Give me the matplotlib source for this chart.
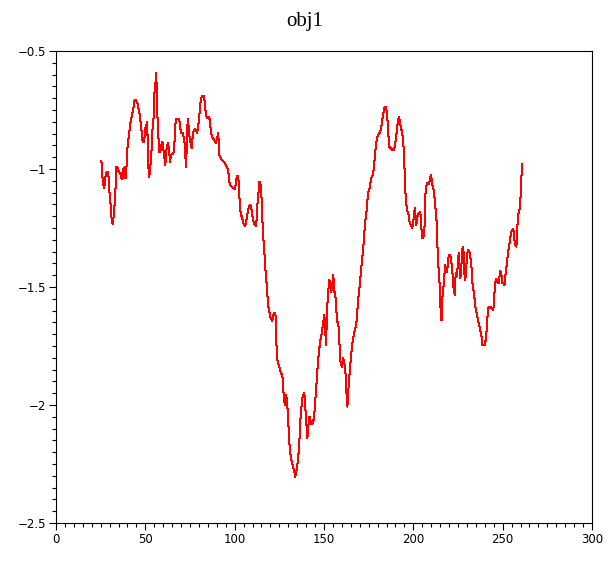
import matplotlib
matplotlib.use("Agg")
import matplotlib.pyplot as plt
from matplotlib.ticker import MultipleLocator

TITLE = "obj1"

x_vals = [
    25.4, 25.9, 26.3, 27.0, 27.6, 28.4, 29.3, 29.5, 30.1, 30.6, 31.0, 31.5, 31.9, 32.3, 32.9,
    33.4, 33.8, 34.3, 34.9, 35.6, 36.2, 36.8, 37.3, 37.9, 38.2, 38.8, 39.2, 39.6, 40.1, 40.7,
    41.2, 41.8, 42.4, 42.9, 43.5, 44.0, 44.6, 45.2, 45.7, 46.3, 46.8, 47.4, 48.0, 48.5, 49.1,
    49.6, 50.2, 50.8, 51.1, 51.3, 51.7, 52.2, 52.8, 53.6, 53.9, 54.5, 54.9, 55.2, 55.6, 55.8,
    56.1, 56.5, 56.9, 57.5, 57.8, 58.2, 58.6, 58.9, 59.5, 59.9, 60.3, 60.8, 61.2, 61.6, 62.1,
    62.7, 63.3, 63.8, 64.2, 64.8, 65.7, 66.4, 67.0, 67.7, 68.8, 69.4, 69.8, 70.4, 71.1, 71.5,
    72.0, 72.4, 72.9, 73.3, 73.9, 74.3, 74.8, 75.4, 75.9, 76.5, 77.1, 77.8, 78.4, 78.9, 79.6,
    80.2, 80.8, 81.3, 81.9, 82.6, 83.2, 83.8, 84.3, 84.9, 85.5, 86.0, 86.6, 87.1, 87.7, 88.3,
    88.8, 89.4, 89.9, 90.3, 90.8, 91.4, 92.9, 94.6, 96.4, 96.8, 97.4, 98.3, 99.2, 100.2, 100.7,
    101.3, 102.0, 102.4, 103.0, 103.5, 104.1, 104.7, 105.2, 105.8, 106.3, 106.9, 107.5, 108.0, 108.6, 109.1,
    109.7, 110.3, 110.8, 111.4, 111.9, 112.5, 112.9, 113.5, 113.8, 114.2, 114.6, 115.1, 115.5, 116.0, 116.6,
    117.1, 117.7, 118.3, 118.8, 119.4, 119.9, 120.7, 121.1, 121.6, 122.2, 122.8, 123.3, 123.7, 124.3, 125.0,
    125.9, 126.7, 127.2, 127.8, 128.2, 128.8, 129.3, 129.7, 130.2, 130.8, 131.4, 131.9, 132.5, 133.0, 133.6,
    133.9, 134.5, 135.1, 135.6, 136.2, 136.7, 137.3, 137.9, 138.4, 139.0, 139.5, 140.1, 140.7, 141.2, 141.8,
    142.3, 142.9, 143.5, 144.0, 144.6, 145.1, 145.7, 146.3, 146.8, 147.4, 147.9, 148.5, 149.0, 149.6, 150.2,
    150.6, 151.1, 151.5, 151.8, 152.4, 153.0, 153.5, 154.1, 154.7, 155.2, 155.8, 156.3, 156.9, 157.4, 158.0,
    158.6, 158.8, 159.5, 160.1, 160.6, 161.2, 161.8, 162.3, 162.7, 163.1, 163.4, 164.0, 164.6, 165.1, 165.7,
    166.2, 166.8, 167.4, 167.9, 168.5, 169.0, 169.6, 170.2, 170.7, 171.3, 171.8, 172.4, 172.9, 173.5, 174.1,
    174.6, 175.2, 175.7, 176.3, 176.9, 177.4, 178.0, 178.5, 179.1, 179.7, 180.2, 180.8, 181.3, 181.9, 182.5,
    183.0, 183.6, 184.1, 184.7, 185.3, 185.8, 186.4, 186.9, 187.5, 188.1, 189.2, 189.7, 190.3, 190.9, 191.4,
    192.0, 192.6, 193.1, 193.7, 194.2, 194.8, 195.1, 195.5, 195.9, 196.5, 197.0, 197.4, 197.8, 198.3, 198.9,
    199.4, 200.0, 200.4, 200.8, 201.3, 201.7, 202.1, 202.5, 203.0, 203.6, 203.9, 204.3, 204.7, 205.0, 205.6,
    206.1, 206.5, 206.9, 207.5, 208.0, 208.6, 209.2, 209.5, 209.9, 210.3, 210.8, 211.4, 211.7, 212.1, 212.5,
    213.1, 213.6, 214.2, 214.8, 215.1, 215.5, 215.9, 216.2, 216.8, 217.3, 217.7, 218.3, 218.8, 219.4, 219.8,
    220.7, 221.5, 222.0, 222.6, 223.2, 223.7, 224.2, 224.8, 225.4, 225.9, 226.3, 226.7, 227.2, 227.6, 228.2,
    228.5, 229.1, 229.5, 229.9, 230.2, 230.8, 231.3, 231.9, 232.5, 232.8, 233.2, 233.8, 234.3, 234.9, 235.5,
    236.0, 236.6, 237.1, 237.7, 238.3, 238.6, 239.2, 239.9, 240.5, 241.1, 241.6, 242.2, 242.7, 243.3, 243.9,
    244.4, 245.0, 245.5, 246.1, 246.7, 247.2, 247.8, 248.2, 248.7, 249.3, 249.8, 250.4, 251.0, 251.5, 252.1,
    252.6, 253.2, 253.7, 254.3, 254.9, 255.4, 256.0, 256.5, 257.1, 257.7, 258.2, 258.8, 259.3, 259.9, 260.2,
    260.6, 261.0,
]

y_vals = [
    -0.966, -1.018, -1.064, -1.082, -1.033, -1.011, -1.011, -1.061, -1.110, -1.155, -1.202, -1.227, -1.234, -1.195, -1.139,
    -1.068, -0.990, -0.990, -1.008, -1.016, -1.025, -1.044, -1.011, -0.997, -1.039, -0.990, -1.039, -0.962, -0.898, -0.866,
    -0.832, -0.795, -0.778, -0.757, -0.733, -0.708, -0.709, -0.715, -0.722, -0.747, -0.768, -0.804, -0.849, -0.884, -0.884,
    -0.866, -0.814, -0.856, -0.800, -0.891, -0.993, -1.035, -0.990, -0.905, -0.842, -0.800, -0.729, -0.662, -0.651, -0.609,
    -0.592, -0.694, -0.806, -0.884, -0.927, -0.927, -0.919, -0.898, -0.884, -0.905, -0.931, -0.962, -0.983, -0.933, -0.905,
    -0.891, -0.919, -0.969, -0.948, -0.936, -0.936, -0.877, -0.789, -0.789, -0.789, -0.806, -0.842, -0.849, -0.849, -0.870,
    -0.891, -0.948, -0.993, -0.832, -0.789, -0.832, -0.870, -0.891, -0.912, -0.863, -0.835, -0.832, -0.835, -0.846, -0.821,
    -0.775, -0.722, -0.700, -0.691, -0.691, -0.711, -0.761, -0.778, -0.785, -0.781, -0.789, -0.835, -0.856, -0.870, -0.874,
    -0.880, -0.891, -0.877, -0.863, -0.849, -0.941, -0.962, -0.975, -1.004, -1.047, -1.068, -1.075, -1.082, -1.086, -1.054,
    -1.030, -1.030, -1.086, -1.166, -1.195, -1.202, -1.227, -1.237, -1.241, -1.230, -1.202, -1.177, -1.157, -1.153, -1.157,
    -1.188, -1.216, -1.230, -1.237, -1.241, -1.195, -1.128, -1.089, -1.054, -1.054, -1.075, -1.131, -1.216, -1.287, -1.350,
    -1.414, -1.470, -1.534, -1.583, -1.605, -1.626, -1.640, -1.643, -1.619, -1.609, -1.609, -1.725, -1.802, -1.821, -1.838,
    -1.866, -1.873, -1.936, -1.986, -2.000, -1.958, -1.979, -2.035, -2.106, -2.183, -2.219, -2.240, -2.254, -2.272, -2.289,
    -2.304, -2.282, -2.254, -2.219, -2.155, -2.071, -2.014, -1.972, -1.958, -1.950, -2.007, -2.071, -2.141, -2.092, -2.049,
    -2.060, -2.080, -2.080, -2.071, -2.035, -1.986, -1.922, -1.852, -1.802, -1.760, -1.725, -1.708, -1.682, -1.647, -1.619,
    -1.668, -1.746, -1.661, -1.583, -1.513, -1.470, -1.491, -1.520, -1.485, -1.449, -1.520, -1.527, -1.597, -1.647, -1.654,
    -1.717, -1.788, -1.830, -1.838, -1.802, -1.816, -1.844, -1.894, -1.971, -2.007, -1.965, -1.894, -1.838, -1.795, -1.753,
    -1.717, -1.703, -1.675, -1.668, -1.619, -1.562, -1.520, -1.477, -1.428, -1.386, -1.343, -1.294, -1.230, -1.202, -1.153,
    -1.103, -1.089, -1.075, -1.039, -1.033, -1.025, -0.990, -0.941, -0.898, -0.870, -0.856, -0.849, -0.846, -0.832, -0.800,
    -0.771, -0.747, -0.736, -0.739, -0.771, -0.821, -0.905, -0.908, -0.912, -0.919, -0.919, -0.898, -0.870, -0.828, -0.795,
    -0.781, -0.806, -0.828, -0.842, -0.877, -0.933, -1.011, -1.089, -1.139, -1.177, -1.181, -1.199, -1.223, -1.233, -1.241,
    -1.251, -1.223, -1.188, -1.167, -1.202, -1.237, -1.209, -1.195, -1.188, -1.185, -1.181, -1.227, -1.272, -1.294, -1.286,
    -1.283, -1.185, -1.082, -1.065, -1.058, -1.065, -1.050, -1.035, -1.025, -1.047, -1.072, -1.089, -1.110, -1.145, -1.174,
    -1.230, -1.350, -1.435, -1.499, -1.569, -1.640, -1.640, -1.548, -1.505, -1.463, -1.407, -1.421, -1.435, -1.400, -1.364,
    -1.364, -1.407, -1.449, -1.513, -1.534, -1.442, -1.456, -1.414, -1.357, -1.421, -1.463, -1.428, -1.372, -1.329, -1.357,
    -1.442, -1.470, -1.435, -1.378, -1.357, -1.343, -1.350, -1.372, -1.407, -1.456, -1.491, -1.520, -1.555, -1.594, -1.611,
    -1.633, -1.654, -1.668, -1.694, -1.717, -1.746, -1.746, -1.746, -1.725, -1.679, -1.611, -1.583, -1.583, -1.586, -1.590,
    -1.597, -1.583, -1.513, -1.467, -1.470, -1.482, -1.485, -1.456, -1.431, -1.449, -1.482, -1.485, -1.491, -1.453, -1.414,
    -1.378, -1.343, -1.322, -1.289, -1.266, -1.258, -1.255, -1.298, -1.322, -1.329, -1.247, -1.188, -1.181, -1.131, -1.089,
    -1.018, -0.979,
]

x_ticks = [0, 50, 100, 150, 200, 250, 300]
x_tick_labels = ["0", "50", "100", "150", "200", "250", "300"]
y_ticks = [-2.5, -2, -1.5, -1, -0.5]
y_tick_labels = ["\u22122.5", "\u22122", "\u22121.5", "\u22121", "\u22120.5"]


def main():
    fig = plt.figure(figsize=(6.1, 5.7), dpi=100)
    ax = fig.add_axes([0.0918, 0.0825, 0.8787, 0.828])

    # scilab-style export: hard 1px red line
    ax.plot(x_vals, y_vals, color="red", linewidth=0.72, antialiased=False)

    ax.set_xlim(0, 300)
    ax.set_ylim(-2.5, -0.5)
    ax.set_xticks(x_ticks)
    ax.set_xticklabels(x_tick_labels)
    ax.set_yticks(y_ticks)
    ax.set_yticklabels(y_tick_labels)
    ax.xaxis.set_minor_locator(MultipleLocator(5))
    ax.yaxis.set_minor_locator(MultipleLocator(0.05))
    ax.tick_params(which="major", direction="out", length=5, width=0.8,
                   labelsize=8.5, pad=2, top=False, right=False)
    ax.tick_params(which="minor", direction="out", length=3, width=0.8,
                   top=False, right=False)
    for lab in ax.get_xticklabels() + ax.get_yticklabels():
        lab.set_family(["Liberation Sans Narrow", "DejaVu Sans"])
    for spine in ax.spines.values():
        spine.set_linewidth(0.8)

    fig.text(0.5, 0.962, TITLE, ha="center", va="center",
             fontsize=15, family="Liberation Serif")

    fig.savefig("out.png", dpi=100)
    plt.close(fig)


if __name__ == "__main__":
    main()
